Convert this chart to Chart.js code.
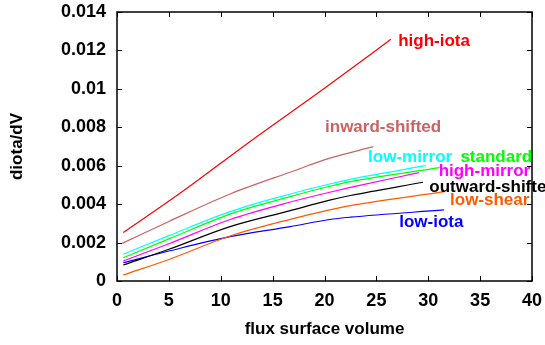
<!DOCTYPE html>
<html>
<head>
<meta charset="utf-8">
<script src="https://cdn.jsdelivr.net/npm/chart.js@4/dist/chart.umd.min.js"></script>
<style>
  body { margin: 0; background: #fff; }
</style>
</head>
<body>
<canvas id="iotaChart" width="545" height="345"></canvas>
<script>
// flux surface volume (x) and diota/dV (y) for each configuration
const highIotaV = [0.6, 6, 13, 20, 26.4];
const highIota = [0.00252, 0.00454, 0.00733, 0.01003, 0.01258];
const inwardV = [0.5, 5, 10.9, 17.3, 20.05, 24.7];
const inward = [0.00196, 0.0031, 0.00453, 0.00578, 0.00632, 0.00699];
const lowMirrorV = [0.6, 5, 10.9, 16.7, 20.5, 22.5, 29.75];
const lowMirror = [0.00139, 0.00236, 0.00361, 0.00453, 0.00505, 0.00529, 0.006];
const standardV = [0.6, 5, 10.9, 16.7, 20.5, 22.5, 31.1];
const standard = [0.00121, 0.00219, 0.00348, 0.00439, 0.00493, 0.00517, 0.0059];
const highMirrorV = [0.6, 5, 10.9, 16.7, 20.5, 22.5, 29.1];
const highMirror = [0.00104, 0.00194, 0.0032, 0.00411, 0.00462, 0.00487, 0.00564];
const outwardV = [0.6, 5, 10.9, 16.7, 20.5, 22.5, 29.5];
const outward = [0.00083, 0.00165, 0.00283, 0.00366, 0.00421, 0.00445, 0.00514];
const lowShearV = [0.6, 5, 10.9, 16.7, 20.5, 22.5, 31.6];
const lowShear = [0.00031, 0.00112, 0.00234, 0.00321, 0.0037, 0.00392, 0.00465];
const lowIotaV = [0.6, 5, 10.9, 16.7, 20.5, 22.5, 31.5];
const lowIota = [0.00095, 0.00156, 0.00231, 0.00283, 0.0032, 0.00332, 0.0037];

const names = ['high-iota', 'inward-shifted', 'low-mirror', 'standard', 'high-mirror', 'outward-shifted', 'low-shear', 'low-iota'];
const colors = ['#ff0000', '#cd6262', '#00ffff', '#00ff00', '#ff00ff', '#000000', '#ff5a00', '#0000ff'];
// where each name is written, in data units (left end of the text)
const labelX = [27.1, 20.05, 24.2, 33.1, 31.0, 30.1, 32.1, 27.2];
const labelY = [0.01249, 0.00801, 0.00645, 0.00645, 0.00573, 0.00489, 0.00422, 0.00307];

const series = [
    [highIotaV, highIota], [inwardV, inward], [lowMirrorV, lowMirror], [standardV, standard],
    [highMirrorV, highMirror], [outwardV, outward], [lowShearV, lowShear], [lowIotaV, lowIota]
];

const FONT = '"Liberation Sans", Arial, sans-serif';

const datasets = series.map(([vs, ys], i) => ({
    label: names[i],
    data: vs.map((v, k) => ({ x: v, y: ys[k] })),
    borderColor: colors[i],
    borderWidth: 1.2,
    pointRadius: 0,
    fill: false,
    cubicInterpolationMode: 'monotone'
}));

// gnuplot style: box frame, inward ticks on all sides, text labels beside the curves
const framePlugin = {
    id: 'frame',
    afterDraw(chart) {
        const { ctx, chartArea: a, scales: { x, y } } = chart;
        ctx.save();
        ctx.strokeStyle = '#000';
        ctx.lineWidth = 1;
        ctx.beginPath();
        x.ticks.forEach(t => {
            const px = Math.round(x.getPixelForValue(t.value)) + 0.5;
            ctx.moveTo(px, a.bottom); ctx.lineTo(px, a.bottom - 5);
            ctx.moveTo(px, a.top); ctx.lineTo(px, a.top + 5);
        });
        y.ticks.forEach(t => {
            const py = Math.round(y.getPixelForValue(t.value)) + 0.5;
            ctx.moveTo(a.left, py); ctx.lineTo(a.left + 5, py);
            ctx.moveTo(a.right, py); ctx.lineTo(a.right - 5, py);
        });
        ctx.stroke();
        ctx.lineWidth = 1.5;
        ctx.strokeRect(a.left, a.top, a.right - a.left, a.bottom - a.top);

        ctx.font = 'bold 17px ' + FONT;
        ctx.textAlign = 'left';
        ctx.textBaseline = 'middle';
        names.forEach((n, i) => {
            ctx.fillStyle = colors[i];
            ctx.fillText(n, x.getPixelForValue(labelX[i]), y.getPixelForValue(labelY[i]));
        });
        ctx.restore();
    }
};

new Chart(document.getElementById('iotaChart').getContext('2d'), {
    type: 'line',
    data: { datasets },
    options: {
        responsive: false,
        animation: false,
        layout: { padding: { top: 12, right: 13, left: 0, bottom: 0 } },
        plugins: { legend: { display: false }, tooltip: { enabled: false } },
        scales: {
            x: {
                type: 'linear', min: 0, max: 40,
                grid: { display: false, drawTicks: false },
                border: { display: false },
                ticks: { stepSize: 5, padding: 9, color: '#000', font: { family: FONT, size: 18, weight: 'bold' } },
                title: { display: true, text: 'flux surface volume', color: '#000',
                         font: { family: FONT, size: 17, weight: 'bold' }, padding: { top: 0, bottom: 5 } },
                afterFit: s => { s.height = 64; s.paddingLeft = 0; s.paddingRight = 0; }
            },
            y: {
                min: 0, max: 0.014,
                grid: { display: false, drawTicks: false },
                border: { display: false },
                ticks: { stepSize: 0.002, padding: 11, color: '#000', font: { family: FONT, size: 18, weight: 'bold' },
                         callback: v => String(+v.toFixed(3)) },
                title: { display: true, text: 'diota/dV', color: '#000',
                         font: { family: FONT, size: 17, weight: 'bold' }, padding: { top: 7, bottom: 0 } },
                afterFit: s => { s.width = 117; s.paddingTop = 0; s.paddingBottom = 0; }
            }
        }
    },
    plugins: [framePlugin]
});
</script>
</body>
</html>
